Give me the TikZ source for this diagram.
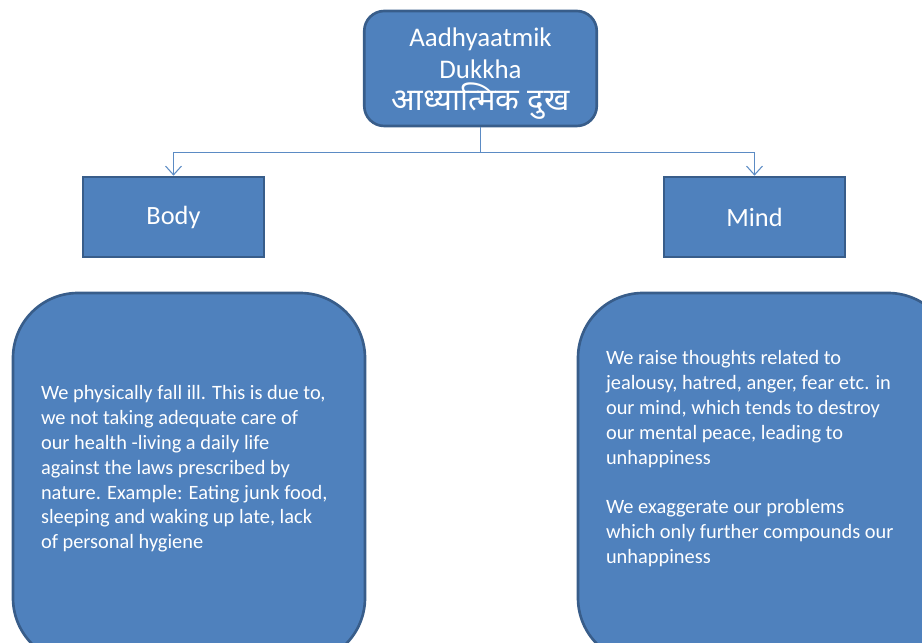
\documentclass[tikz,border=0pt]{standalone}
\usepackage{fontspec}
\setmainfont{Carlito}
\newfontfamily\devfont[Script=Devanagari]{Noto Sans}
\usetikzlibrary{positioning,arrows.meta}
\definecolor{boxblue}{HTML}{4F81BD}
\definecolor{boxedge}{HTML}{385D8A}
\definecolor{linkblue}{HTML}{5B8BC4}
\begin{document}
\begin{tikzpicture}[
    >={Straight Barb[length=5pt,width=9pt]},
    headbox/.style={draw=boxedge,line width=1.5pt,fill=boxblue,text=white,rounded corners=0.4cm,
        minimum width=4.65cm,minimum height=2.3cm,align=center,font=\fontsize{15.3}{18}\selectfont},
    partbox/.style={draw=boxedge,line width=1.5pt,fill=boxblue,text=white,
        minimum width=3.62cm,minimum height=1.6cm,font=\fontsize{15}{18}\selectfont},
    notebox/.style={draw=boxedge,line width=1.5pt,fill=boxblue,rounded corners=1.3cm},
    notetext/.style={text=white,align=left,inner sep=0pt,anchor=north west,font=\fontsize{11.6}{14.2}\selectfont},
    link/.style={draw=linkblue,line width=0.6pt}
]
    \useasboundingbox (0,0) rectangle (18.44,12.84);
    \clip (0,0) rectangle (18.44,12.84);
    \node[headbox] (head) at (9.61,11.47) {\rule{0pt}{16.5pt}Aadhyaatmik\\Dukkha\\{\devfont\fontsize{17.6}{20}\selectfont आध्यात्मिक दुख}};
    \node[partbox] (body) at (3.47,8.50) {Body};
    \node[partbox] (mind) at (15.09,8.50) {Mind};
    \node[notebox,minimum width=7.04cm,minimum height=7.4cm] (bodynote) at (3.78,3.28) {};
    \node[notebox,minimum width=7.5cm,minimum height=7.4cm] (mindnote) at (15.31,3.28) {};
    \node[notetext,below right=1.86cm and 0.58cm of bodynote.north west] (bodytext)
        {We physically fall ill. This is due to,\\we not taking adequate care of\\our health -living a daily life\\against the laws prescribed by\\nature. Example: Eating junk food,\\sleeping and waking up late, lack\\of personal hygiene};
    \node[notetext,below right=1.16cm and 0.58cm of mindnote.north west] (mindtext)
        {We raise thoughts related to\\jealousy, hatred, anger, fear etc. in\\our mind, which tends to destroy\\our mental peace, leading to\\unhappiness\\[14.2pt]We exaggerate our problems\\which only further compounds our\\unhappiness};
    \coordinate[below=0.5cm of head.south] (split);
    \draw[link] (head.south) -- (split);
    \draw[link,->] (split) -| (body.north);
    \draw[link,->] (split) -| (mind.north);
\end{tikzpicture}
\end{document}
